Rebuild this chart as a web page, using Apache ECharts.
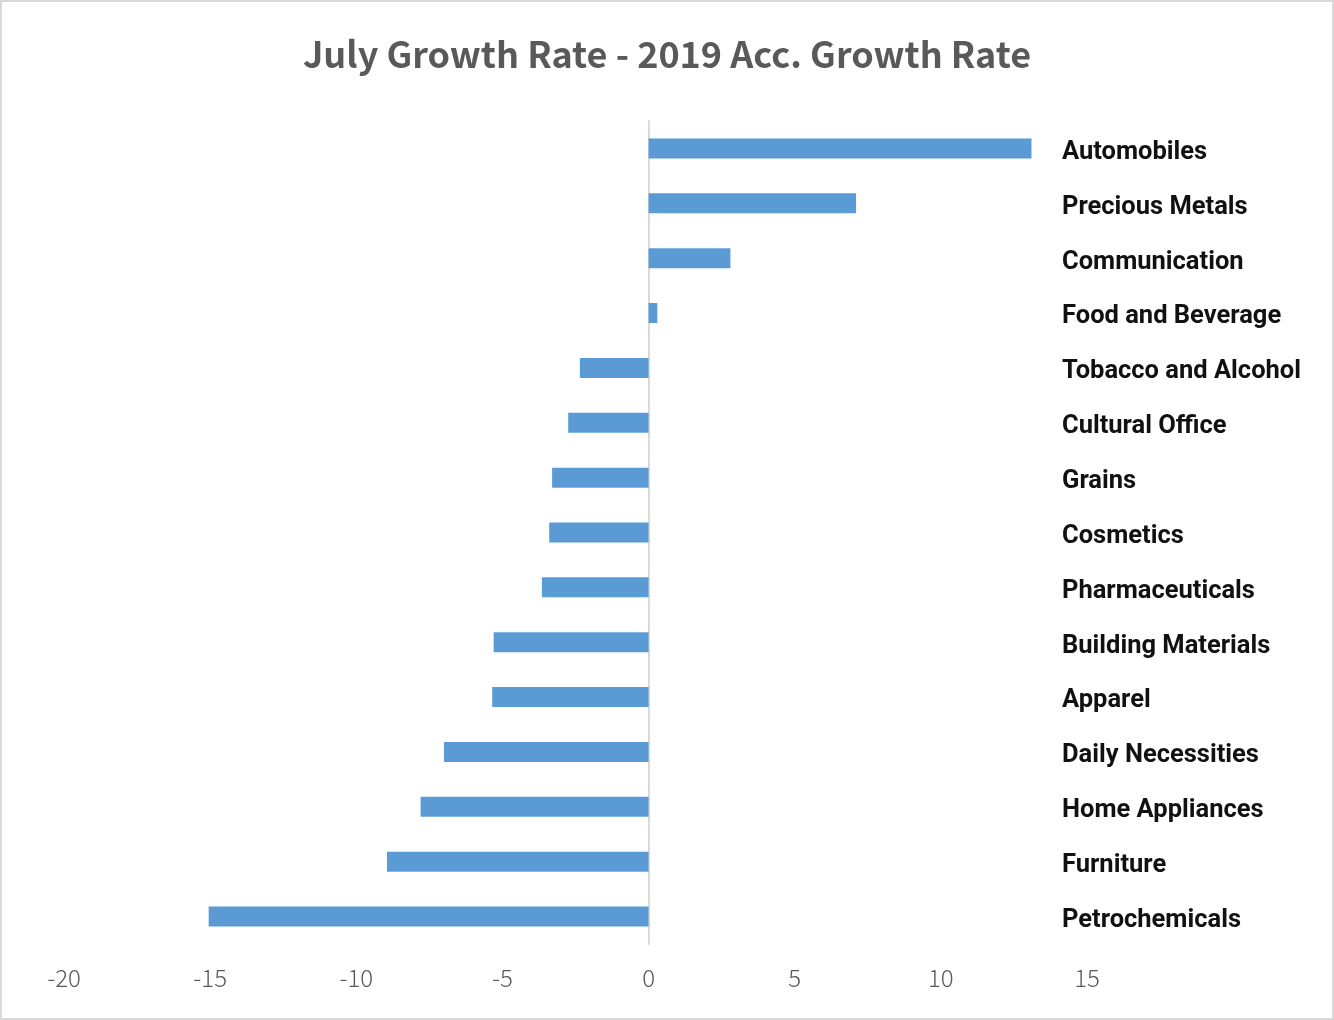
<!DOCTYPE html>
<html>
<head>
<meta charset="utf-8">
<script src="https://cdn.jsdelivr.net/npm/echarts@6/dist/echarts.min.js"></script>
<style>
  html, body { margin: 0; padding: 0; background: #fff; }
  #chart { width: 1334px; height: 1020px; box-sizing: border-box; border: 2px solid #d9d9d9; }
</style>
</head>
<body>
<div id="chart"></div>
<script>
// categories, top to bottom
const categories = [
  'Automobiles', 'Precious Metals', 'Communication', 'Food and Beverage',
  'Tobacco and Alcohol', 'Cultural Office', 'Grains', 'Cosmetics',
  'Pharmaceuticals', 'Building Materials', 'Apparel', 'Daily Necessities',
  'Home Appliances', 'Furniture', 'Petrochemicals'
];
// July growth rate minus 2019 accumulated growth rate
const growthDiff = [13.1, 7.1, 2.8, 0.3, -2.35, -2.75, -3.3, -3.4, -3.65, -5.3, -5.35, -7.0, -7.8, -8.95, -15.05];
const xTicks = { min: -20, max: 15, interval: 5 };

const chart = echarts.init(document.getElementById('chart'));
const option = {
  animation: false,
  title: {
    text: 'July Growth Rate - 2019 Acc. Growth Rate',
    left: 'center',
    top: 29,
    textStyle: {
      fontFamily: 'Noto Sans CJK SC',
      fontWeight: 'bold',
      fontSize: 36,
      color: '#595959'
    }
  },
  grid: { left: 62, right: 245, top: 119, bottom: 74 },
  xAxis: {
    type: 'value',
    min: xTicks.min,
    max: xTicks.max,
    interval: xTicks.interval,
    axisLine: { show: false },
    axisTick: { show: false },
    splitLine: { show: false },
    axisLabel: {
      margin: 22,
      fontFamily: 'Noto Sans CJK SC',
      fontWeight: 300,
      fontSize: 24,
      color: '#595959'
    }
  },
  yAxis: [
    {
      type: 'category',
      data: categories,
      inverse: true,
      axisLine: { onZero: true, lineStyle: { color: '#d9d9d9', width: 2 } },
      axisTick: { show: false },
      axisLabel: { show: false }
    },
    {
      type: 'category',
      data: categories,
      inverse: true,
      position: 'right',
      axisLine: { show: false },
      axisTick: { show: false },
      axisLabel: {
        align: 'left',
        margin: -25,
        formatter: v => '{n|' + v + '}',
        rich: {
          n: {
            padding: [8, 0, 0, 0],
            fontFamily: 'Roboto, "Liberation Sans", sans-serif',
            fontWeight: 'bold',
            fontSize: 25.5,
            color: '#111'
          }
        }
      }
    }
  ],
  series: [
    {
      type: 'bar',
      data: growthDiff,
      barWidth: 20,
      itemStyle: { color: '#5b9bd5' }
    }
  ]
};
chart.setOption(option);
</script>
</body>
</html>
